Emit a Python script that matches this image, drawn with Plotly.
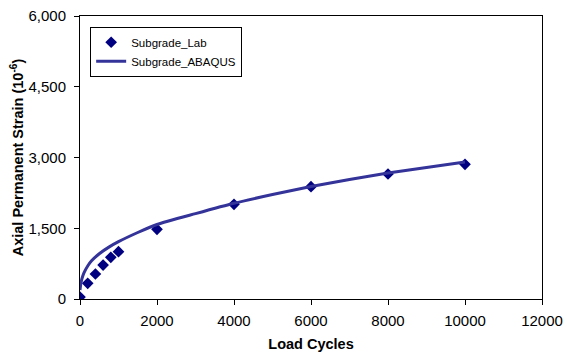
import plotly.graph_objects as go

# Laboratory measurements
lab_cycles = [0, 200, 400, 600, 800, 1000, 2000, 4000, 6000, 8000, 10000]
lab_strain = [40, 333, 530, 720, 884, 1003, 1477, 2007, 2381, 2650, 2856]

# ABAQUS prediction
fe_cycles = [0, 10, 25, 50, 100, 200, 300, 500, 750, 1000, 1500, 2000, 3000,
             4000, 5000, 6000, 7000, 8000, 9000, 10000]
fe_strain = [190, 260, 340, 430, 550, 700, 810, 960, 1100, 1215, 1410, 1580, 1810,
             2030, 2215, 2385, 2535, 2670, 2790, 2905]

x_ticks = [0, 2000, 4000, 6000, 8000, 10000, 12000]
y_ticks = [0, 1500, 3000, 4500, 6000]
y_labels = ["0", "1,500", "3,000", "4,500", "6,000"]

FONT = "Liberation Sans, Arial, sans-serif"

fig = go.Figure()
fig.add_trace(go.Scatter(
    x=lab_cycles, y=lab_strain, mode="markers", name="Subgrade_Lab",
    marker=dict(symbol="diamond", size=9, color="#000080"),
))
fig.add_trace(go.Scatter(
    x=fe_cycles, y=fe_strain, mode="lines", name="Subgrade_ABAQUS",
    line=dict(color="#333399", width=3, shape="spline", smoothing=0.6),
))

tick_font = dict(family=FONT, size=15, color="black")
fig.update_layout(
    width=567, height=358,
    margin=dict(l=80, r=25, t=16, b=59, autoexpand=False),
    paper_bgcolor="white", plot_bgcolor="white",
    font=dict(family=FONT, color="black"),
    showlegend=True,
    legend=dict(
        x=0.022, y=0.962, xanchor="left", yanchor="top",
        bordercolor="black", borderwidth=1, bgcolor="white",
        font=dict(family=FONT, size=11.5, color="black"),
        tracegroupgap=4, itemwidth=30,
    ),
    xaxis=dict(
        range=[0, 12000], tickvals=x_ticks, ticktext=[str(v) for v in x_ticks],
        showgrid=False, zeroline=False, showline=True, linecolor="black", linewidth=1,
        mirror=True, ticks="outside", ticklen=5, tickcolor="black", tickfont=tick_font,
        ticklabelstandoff=3, automargin=False,
        title=dict(text="<b>Load Cycles</b>", font=dict(family=FONT, size=14.5), standoff=10),
    ),
    yaxis=dict(
        range=[0, 6000], tickvals=y_ticks, ticktext=y_labels,
        showgrid=False, zeroline=False, showline=True, linecolor="black", linewidth=1,
        mirror=True, ticks="outside", ticklen=5, tickcolor="black", tickfont=tick_font,
        ticklabelstandoff=5, automargin=False,
        title=dict(text="<b>Axial Permanent Strain (10<sup>-6</sup>)</b>", font=dict(family=FONT, size=14.5), standoff=1),
    ),
)

fig.write_html("out.html")
